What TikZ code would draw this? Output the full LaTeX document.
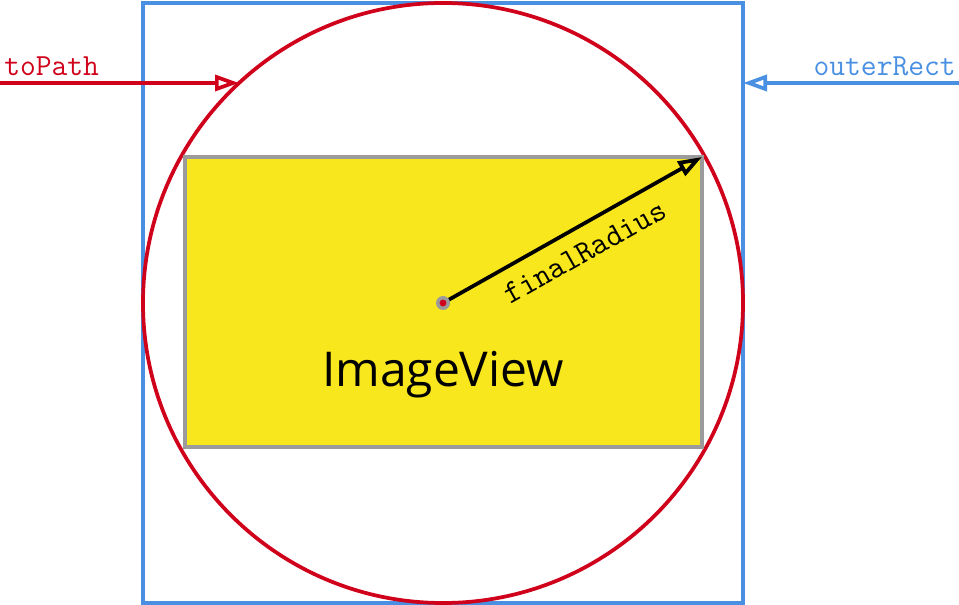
\documentclass[tikz,border=0pt]{standalone}
\usepackage{fontspec}
\newfontfamily\viewfont{Open Sans}
\usetikzlibrary{arrows.meta, positioning}
\definecolor{pathred}{HTML}{D0021B}
\definecolor{rectblue}{HTML}{4A90E2}
\definecolor{viewyellow}{HTML}{F8E71C}
\definecolor{framegrey}{HTML}{9B9B9B}

\begin{document}
\begin{tikzpicture}[x=0.75pt, y=-0.75pt]
    \tikzstyle{thin} = [line width=2.8pt];
    \tikzstyle{tip} = [-{Triangle[open, length=18pt, width=12pt]}];
    \tikzstyle{code} = [font=\ttfamily\fontsize{23}{26}\selectfont, inner sep=0];

    \useasboundingbox (0, 0) rectangle (959, 605);

    \node[thin, draw=rectblue, rectangle, minimum size=450pt, inner sep=0, outer sep=0] at (443, 303) (outer) {};
    \node[thin, draw=pathred, circle, minimum size=450pt, inner sep=0, outer sep=0] at (443, 303) (circ) {};
    \node[thin, draw=framegrey, fill=viewyellow, rectangle, minimum width=387.75pt, minimum height=217.5pt, inner sep=0, outer sep=0] at (443.5, 302) (view) {};

    \node[font=\viewfont\fontsize{36}{42}\selectfont, inner sep=0, anchor=base] at (443, 387) (label) {ImageView};

    \coordinate (center) at (443, 303);
    \coordinate (tpstart) at (0, 83);
    \coordinate (tpend) at (239, 83);
    \coordinate (orstart) at (959, 83);
    \coordinate (orend) at (743, 83);

    \node[code, text=pathred, anchor=base west] at (4, 76) (tp) {toPath};
    \node[code, text=rectblue, anchor=base east] at (956, 76) (or) {outerRect};

    \draw[thin, tip, pathred] (tpstart) -- (tpend);
    \draw[thin, tip, rectblue] (orstart) -- (orend);

    \draw[thin, tip, black] (center) -- node[code, font=\ttfamily\fontsize{24}{26}\selectfont, sloped, below=10pt, pos=0.5] (fr) {finalRadius} (view.north east);

    \fill[framegrey] (center) circle (5.25pt);
    \fill[pathred] (center) circle (2.6pt);
\end{tikzpicture}
\end{document}
